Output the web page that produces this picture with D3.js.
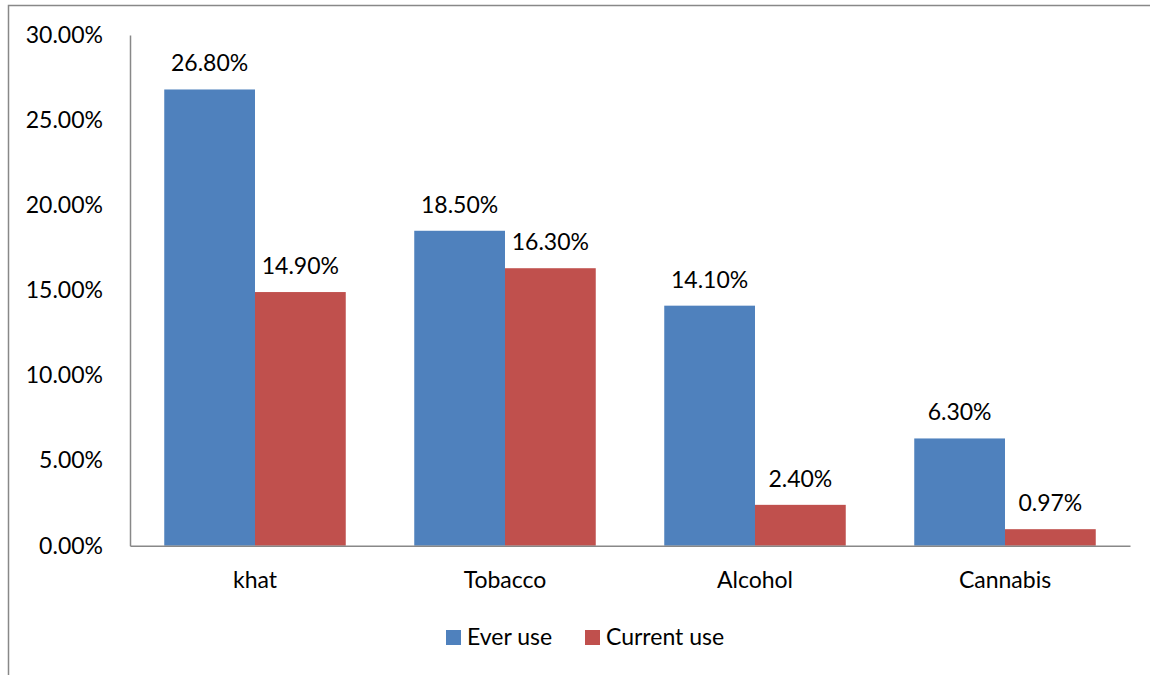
<!DOCTYPE html>
<html>
<head>
<meta charset="utf-8">
<script src="https://cdn.jsdelivr.net/npm/d3@7"></script>
<style>
  body { margin: 0; background: #fff; }
  text { font-family: Lato, "Open Sans", sans-serif; fill: #000; }
</style>
</head>
<body>
<div id="place"></div>
<script>
const categories = ["khat", "Tobacco", "Alcohol", "Cannabis"];
const series = ["Ever use", "Current use"];
const everUse = [26.8, 18.5, 14.1, 6.3];
const currentUse = [14.9, 16.3, 2.4, 0.97];
const valueLabels = [["26.80%", "18.50%", "14.10%", "6.30%"], ["14.90%", "16.30%", "2.40%", "0.97%"]];
const yTicks = [0, 5, 10, 15, 20, 25, 30];
const colors = ["#4f81bd", "#c0504d"];

const W = 1150, H = 675;
const margin = { top: 35, right: 20, bottom: 129, left: 130 };
const fontSize = 23;

const svg = d3.select("#place").append("svg")
  .attr("width", W)
  .attr("height", H);

// outer chart border (cut at right and bottom)
svg.append("path")
  .attr("d", "M8.5," + H + " V5.5 H" + W)
  .attr("fill", "none")
  .attr("stroke", "#888")
  .attr("stroke-width", 1.5);

const x = d3.scaleBand()
  .domain(categories)
  .range([margin.left, W - margin.right])
  .paddingInner(0.274)
  .paddingOuter(0.137);

const inner = d3.scaleBand()
  .domain(series)
  .range([0, x.bandwidth()]);

const y = d3.scaleLinear()
  .domain([0, 30])
  .range([H - margin.bottom - 0.3, margin.top]);

const rows = [everUse, currentUse];

// bars + value labels
series.forEach((s, si) => {
  const g = svg.append("g").attr("class", "series-" + si);
  g.selectAll("rect")
    .data(categories)
    .enter().append("rect")
      .attr("x", d => x(d) + inner(s))
      .attr("y", (d, i) => y(rows[si][i]))
      .attr("width", inner.bandwidth())
      .attr("height", (d, i) => y(0) - y(rows[si][i]))
      .attr("fill", colors[si]);
  g.selectAll("text")
    .data(categories)
    .enter().append("text")
      .attr("x", d => x(d) + inner(s) + inner.bandwidth() / 2)
      .attr("y", (d, i) => y(rows[si][i]) - 18)
      .attr("text-anchor", "middle")
      .attr("font-size", fontSize)
      .text((d, i) => valueLabels[si][i]);
});

// y axis
const yAxis = svg.append("g")
  .attr("transform", "translate(" + margin.left + ",0)")
  .call(d3.axisLeft(y).tickValues(yTicks).tickSize(0).tickPadding(27)
    .tickFormat(d => d.toFixed(2) + "%"));
yAxis.select(".domain").attr("stroke", "#888").attr("stroke-width", 1.5);
yAxis.selectAll("text").attr("font-size", fontSize);

// x axis
const xAxis = svg.append("g")
  .attr("transform", "translate(0," + y(0) + ")")
  .call(d3.axisBottom(x).tickSize(0));
xAxis.select(".domain").attr("stroke", "#888").attr("stroke-width", 1.5);
xAxis.selectAll("text")
  .attr("font-size", fontSize)
  .attr("dy", 0)
  .attr("y", 42);

// legend
const legend = svg.append("g").attr("class", "legend");
const legendX = [446, 585];
series.forEach((s, i) => {
  legend.append("rect")
    .attr("x", legendX[i])
    .attr("y", 630)
    .attr("width", 15)
    .attr("height", 15)
    .attr("fill", colors[i]);
  legend.append("text")
    .attr("x", legendX[i] + 21)
    .attr("y", 645)
    .attr("font-size", fontSize)
    .text(s);
});
</script>
</body>
</html>
